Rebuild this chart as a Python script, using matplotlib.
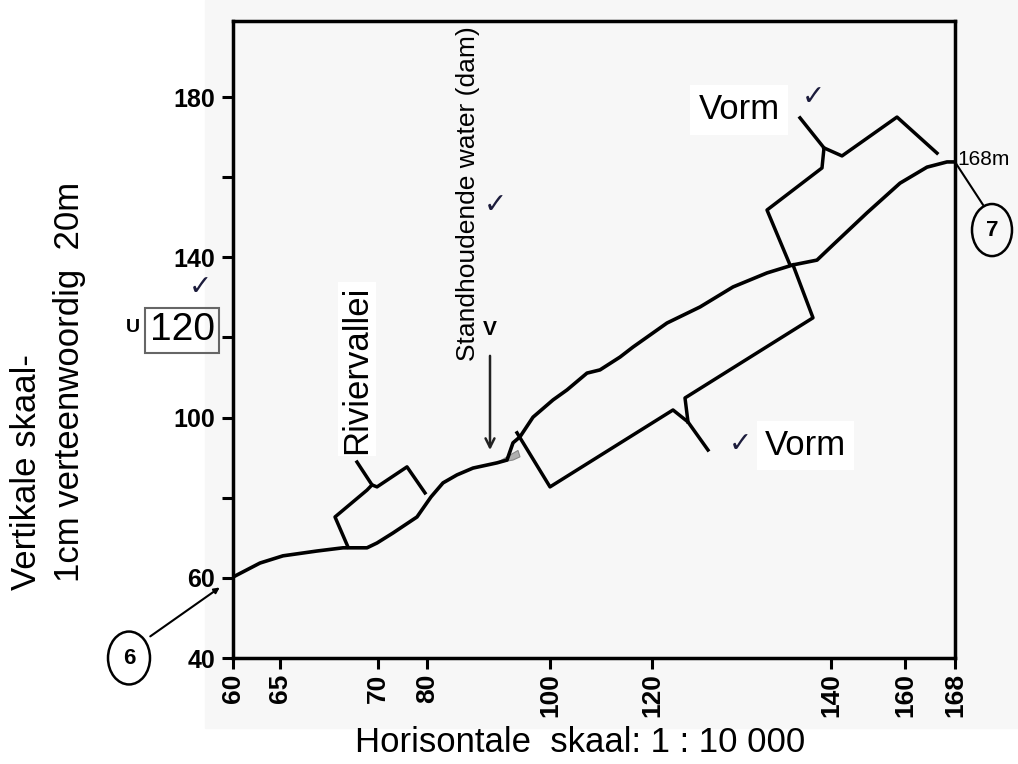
import numpy as np
import matplotlib
matplotlib.use("Agg")
from matplotlib import pyplot as plt
from matplotlib.patches import Ellipse, Rectangle, Polygon
from matplotlib.transforms import blended_transform_factory

my_dpi = 100
W, H = 1018, 764

# distance along the section line (mm on the map) and height (m)
profile_dist = [0.0, 2.7, 5.0, 8.4, 11.0, 13.4, 14.4, 16.0, 18.4, 19.8, 21.0, 22.4,
                24.0, 26.4, 27.4, 28.0, 28.7, 30.0, 32.0, 33.4, 35.4, 36.7, 38.7,
                40.0, 43.4, 46.7, 50.0, 53.4, 56.0, 58.4, 60.0, 63.4, 66.7, 69.4,
                71.4, 72.2]
profile_height = [60.2, 63.7, 65.5, 66.7, 67.5, 67.5, 68.7, 71.2, 75.2, 80.2, 83.7, 85.7,
                  87.4, 88.7, 89.4, 93.7, 95.2, 100.1, 104.4, 106.9, 111.1, 111.9, 115.1,
                  117.6, 123.6, 127.6, 132.6, 136.1, 138.1, 139.3, 143.1, 151.1, 158.5, 162.5,
                  163.8, 163.8]

# contour heights where they cross the section line
tick_dist = [0, 4.7, 14.5, 19.4, 31.7, 41.9, 59.8, 67.2, 72.2]
tick_labels = ["60", "65", "70", "80", "100", "120", "140", "160", "168"]

y_ticks = [40, 60, 80, 100, 120, 140, 160, 180]
y_labels = ["40", "60", "", "100", "", "140", "", "180"]

# brackets (braces) drawn along the profile
rivier_a = ([11.5, 10.2, 13.4, 13.9, 12.4], [67.7, 75.2, 81.9, 83.2, 88.9])
rivier_b = ([13.9, 14.4, 17.4, 19.2], [83.2, 82.7, 87.7, 81.2])
vorm_low_a = ([28.4, 31.7, 44.0, 45.5, 47.5], [96.2, 82.7, 101.9, 98.9, 91.9])
vorm_low_b = ([45.5, 45.2, 58.0, 56.0], [98.9, 104.9, 124.9, 138.1])
vorm_up_a = ([55.7, 53.4, 58.9, 59.1, 56.7], [138.1, 151.8, 162.3, 167.3, 174.8])
vorm_up_b = ([59.1, 60.9, 66.4, 70.4], [167.3, 165.3, 175.0, 166.0])

dam_dist = [26.4, 27.4, 28.5, 28.7, 28.0]
dam_height = [88.7, 90.2, 91.8, 90.2, 89.4]

narrow = ['Liberation Sans Narrow', 'Liberation Sans', 'DejaVu Sans']
sans = ['Liberation Sans', 'DejaVu Sans']
tick_col = '#1c1c3c'

fig = plt.figure(figsize=(W / my_dpi, H / my_dpi), dpi=my_dpi, facecolor='white')
bg = Rectangle((205 / W, 1 - 728 / H), 1 - 205 / W, 728 / H,
               transform=fig.transFigure, color='#f7f7f7', zorder=-10)
fig.patches.append(bg)
ax = fig.add_axes([233 / W, 1 - 658 / H, 722 / W, 637 / H])
ax.set_facecolor('none')

ax.plot(profile_dist, profile_height, color='k', lw=2.6, solid_capstyle='round')
for bx, by in [rivier_a, rivier_b, vorm_low_a, vorm_low_b, vorm_up_a, vorm_up_b]:
    ax.plot(bx, by, color='k', lw=2.5, solid_joinstyle='round')
ax.add_patch(Polygon(list(zip(dam_dist, dam_height)), closed=True,
                     facecolor='#b0b0b0', edgecolor='#888888', lw=0.8))

ax.set_xlim(0, 72.2)
ax.set_ylim(40, 40 + 637 / 4.007)
ax.set_xticks(tick_dist)
ax.set_xticklabels(tick_labels, rotation=90, fontsize=19, fontweight='bold', family=narrow)
ax.set_yticks(y_ticks)
ax.set_yticklabels(y_labels, fontsize=18, fontweight='bold', family=narrow)
ax.tick_params(axis='both', direction='out', length=8, width=2.2, colors='k')
ax.tick_params(axis='y', pad=5)
ax.tick_params(axis='x', pad=3)
for s in ax.spines.values():
    s.set_linewidth(2.5)

# boxed 120 on the vertical axis
ytr = blended_transform_factory(ax.transAxes, ax.transData)
ax.text(-0.0706, 121.8, "120", transform=ytr, ha='center', va='center', fontsize=28,
        family=sans, bbox=dict(facecolor='none', edgecolor='#666666', lw=1.5, pad=3))
ax.text(-0.139, 122.5, "U", transform=ytr, ha='center', va='center', fontsize=14,
        fontweight='bold', family=narrow)
ax.text(-0.045, 132.5, "\u2713", transform=ytr, ha='center', va='center', fontsize=20,
        color=tick_col, family='DejaVu Sans')

# labels inside the chart
ax.text(23.5, 155.9, "Standhoudende water (dam)", rotation=90, ha='center', va='center',
        fontsize=19, family=sans)
ax.text(26.2, 153.0, "\u2713", ha='center', va='center', fontsize=20, color=tick_col,
        family='DejaVu Sans')
ax.text(25.7, 121.9, "V", ha='center', va='center', fontsize=15, fontweight='bold', family=sans)
ax.annotate('', xy=(25.7, 91.2), xytext=(25.7, 116.1),
            arrowprops=dict(arrowstyle='->', lw=1.8, color='#222222', mutation_scale=16))

ax.text(12.4, 91.0, "Riviervallei", rotation=90, ha='center', va='bottom', fontsize=25,
        family=sans, bbox=dict(facecolor='white', edgecolor='none', pad=2))

ax.text(50.6, 176.8, "Vorm", ha='center', va='center', fontsize=25, family=sans,
        bbox=dict(facecolor='white', edgecolor='none', pad=6))
ax.text(58.0, 180.0, "\u2713", ha='center', va='center', fontsize=20, color=tick_col,
        family='DejaVu Sans')
ax.text(50.7, 93.5, "\u2713", ha='center', va='center', fontsize=20, color=tick_col,
        family='DejaVu Sans')
ax.text(53.2, 93.0, "Vorm", ha='left', va='center', fontsize=25, family=sans,
        bbox=dict(facecolor='white', edgecolor='none', pad=6))

# end points 6 and 7
ax.add_patch(Ellipse((-10.4, 40), 4.2, 13.2, fill=False, lw=1.8, clip_on=False))
ax.text(-10.4, 40, "6", ha='center', va='center', fontsize=16, fontweight='bold', family=sans)
ax.annotate('', xy=(-1.1, 58.0), xytext=(-8.5, 45.0), annotation_clip=False,
            arrowprops=dict(arrowstyle='-|>', lw=1.5, color='k', mutation_scale=8))
ax.add_patch(Ellipse((75.9, 146.8), 4.0, 13.0, fill=False, lw=1.8, clip_on=False))
ax.text(75.9, 146.8, "7", ha='center', va='center', fontsize=16, fontweight='bold', family=sans)
ax.plot([72.2, 75.0], [163.8, 153.1], color='k', lw=1.5, clip_on=False)
ax.text(72.4, 164.3, "168m", ha='left', va='center', fontsize=15, family=narrow)

# axis titles
fig.text(580 / W, 1 - 743 / H, "Horisontale  skaal: 1 : 10 000", ha='center', va='center',
         fontsize=25, family=sans)
fig.text(27 / W, 1 - 590 / H, "Vertikale skaal-", rotation=90, ha='center', va='bottom',
         fontsize=25, family=sans)
fig.text(70 / W, 1 - 582 / H, "1cm verteenwoordig  20m", rotation=90, ha='center', va='bottom',
         fontsize=25, family=sans)

plt.savefig("out.png", dpi=my_dpi, facecolor=fig.get_facecolor())
